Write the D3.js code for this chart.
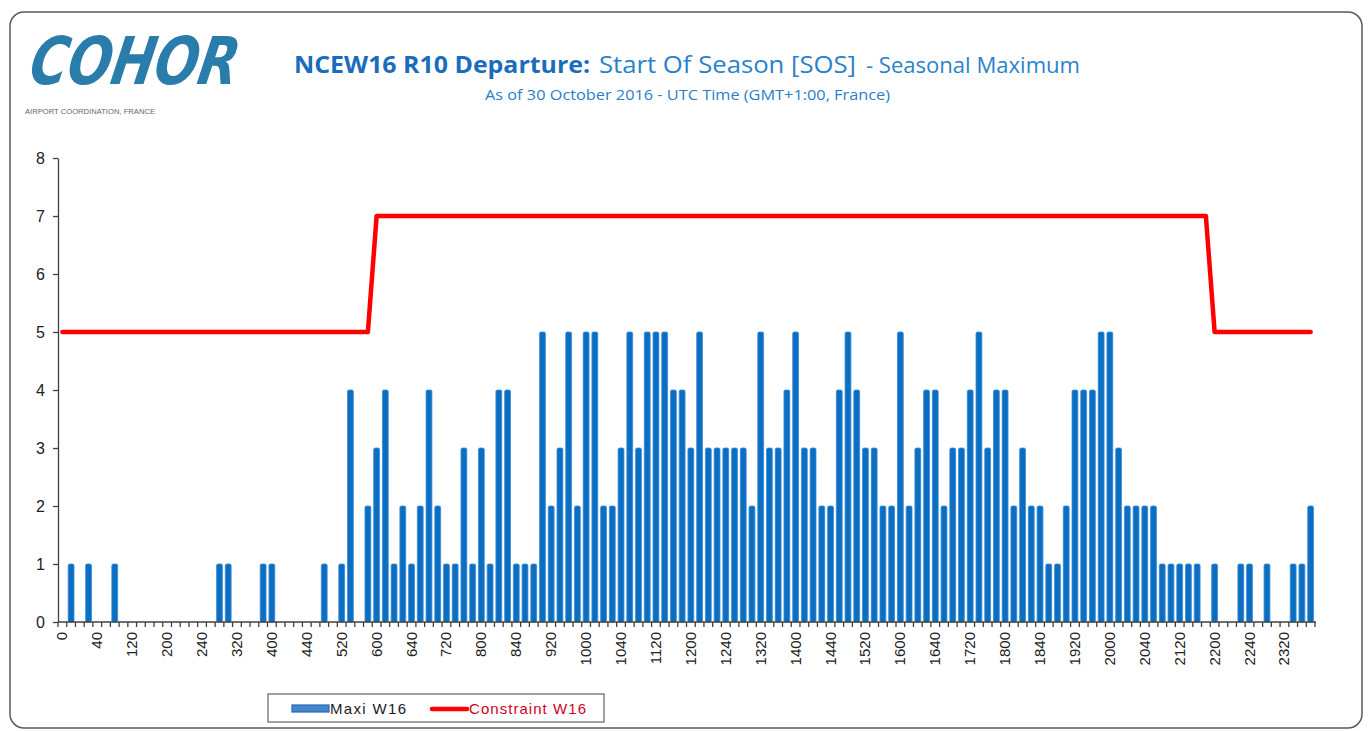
<!DOCTYPE html>
<html><head><meta charset="utf-8">
<script src="https://cdn.jsdelivr.net/npm/d3@7"></script>
<style>html,body{margin:0;padding:0;background:#fff;} svg{display:block;}</style>
</head><body><svg id="c" width="1370" height="731"></svg>
<script>
// 10-minute slots, HHMM without leading zeros
const categories = [
  0,10,20,30,40,50, 100,110,120,130,140,150, 200,210,220,230,240,250,
  300,310,320,330,340,350, 400,410,420,430,440,450, 500,510,520,530,540,550,
  600,610,620,630,640,650, 700,710,720,730,740,750, 800,810,820,830,840,850,
  900,910,920,930,940,950, 1000,1010,1020,1030,1040,1050, 1100,1110,1120,1130,1140,1150,
  1200,1210,1220,1230,1240,1250, 1300,1310,1320,1330,1340,1350, 1400,1410,1420,1430,1440,1450,
  1500,1510,1520,1530,1540,1550, 1600,1610,1620,1630,1640,1650, 1700,1710,1720,1730,1740,1750,
  1800,1810,1820,1830,1840,1850, 1900,1910,1920,1930,1940,1950, 2000,2010,2020,2030,2040,2050,
  2100,2110,2120,2130,2140,2150, 2200,2210,2220,2230,2240,2250, 2300,2310,2320,2330,2340,2350
];
const maxiW16 = [
  0,1,0,1,0,0,1,0,0,0,
  0,0,0,0,0,0,0,0,1,1,
  0,0,0,1,1,0,0,0,0,0,
  1,0,1,4,0,2,3,4,1,2,
  1,2,4,2,1,1,3,1,3,1,
  4,4,1,1,1,5,2,3,5,2,
  5,5,2,2,3,5,3,5,5,5,
  4,4,3,5,3,3,3,3,3,2,
  5,3,3,4,5,3,3,2,2,4,
  5,4,3,3,2,2,5,2,3,4,
  4,2,3,3,4,5,3,4,4,2,
  3,2,2,1,1,2,4,4,4,5,
  5,3,2,2,2,2,1,1,1,1,
  1,0,1,0,0,1,1,0,1,0,
  0,1,1,2
];
const constraintW16 = [
  5,5,5,5,5,5,5,5,5,5, 5,5,5,5,5,5,5,5,5,5, 5,5,5,5,5,5,5,5,5,5, 5,5,5,5,5,5,
  7,7,7,7,7,7,7,7,7,7, 7,7,7,7,7,7,7,7,7,7, 7,7,7,7,7,7,7,7,7,7, 7,7,7,7,7,7,7,7,7,7,
  7,7,7,7,7,7,7,7,7,7, 7,7,7,7,7,7,7,7,7,7, 7,7,7,7,7,7,7,7,7,7, 7,7,7,7,7,7,7,7,7,7,
  7,7,7,7,7,7,7,7,7,7, 7,7,7,7,7,7,
  5,5,5,5,5,5,5,5,5,5,5,5
];
const yTicks = [0,1,2,3,4,5,6,7,8];
const xTickLabels = [0,40,120,200,240,320,400,440,520,600,640,720,800,840,920,1000,1040,1120,
  1200,1240,1320,1400,1440,1520,1600,1640,1720,1800,1840,1920,2000,2040,2120,2200,2240,2320];
const seriesNames = ["Maxi W16", "Constraint W16"];

const svg = d3.select("#c");

// outer frame
svg.append("rect").attr("x",10).attr("y",12).attr("width",1352).attr("height",716)
  .attr("rx",14).attr("fill","#fff").attr("stroke","#5a5a5a").attr("stroke-width",1.5);

// logo
svg.append("text").attr("x",28).attr("y",84)
  .attr("font-family","DejaVu Sans").attr("font-weight","bold").attr("font-style","italic")
  .attr("font-size",66).attr("fill","#2a7caa")
  .attr("textLength",208).attr("lengthAdjust","spacingAndGlyphs")
  .attr("transform","skewX(-10) translate(14,0)")
  .text("COHOR");
svg.append("text").attr("x",25).attr("y",114)
  .attr("font-family","Liberation Sans Narrow, Liberation Sans, Arial").attr("font-size",8)
  .attr("fill","#666").attr("textLength",130).attr("lengthAdjust","spacingAndGlyphs")
  .text("AIRPORT COORDINATION, FRANCE");

// titles
const tf = "Open Sans, Noto Sans, sans-serif";
svg.append("text").attr("x",294).attr("y",73).attr("font-family",tf).attr("font-weight","bold")
  .attr("font-size",23).attr("fill","#1a6cbd").attr("textLength",296).attr("lengthAdjust","spacingAndGlyphs")
  .text("NCEW16 R10 Departure:");
svg.append("text").attr("x",599).attr("y",73).attr("font-family",tf)
  .attr("font-size",23).attr("fill","#2a82cc").attr("textLength",257).attr("lengthAdjust","spacingAndGlyphs")
  .text("Start Of Season [SOS]");
svg.append("text").attr("x",866).attr("y",73).attr("font-family",tf)
  .attr("font-size",21).attr("fill","#2a82cc").attr("textLength",214).attr("lengthAdjust","spacingAndGlyphs")
  .text("- Seasonal Maximum");
svg.append("text").attr("x",485).attr("y",100).attr("font-family",tf)
  .attr("font-size",14).attr("fill","#2a80c8").attr("textLength",405).attr("lengthAdjust","spacingAndGlyphs")
  .text("As of 30 October 2016 - UTC Time (GMT+1:00, France)");

// scales
const x = d3.scaleBand().domain(categories).range([58,1315]).paddingInner(0.33).paddingOuter(0.165);
const y = d3.scaleLinear().domain([0,8]).range([622,158]);
const step = x.step();
const bw = x.bandwidth();

// bars
svg.append("g").selectAll("rect").data(categories.map((c,i)=>({c, v:maxiW16[i]})).filter(d=>d.v>0))
  .join("rect")
  .attr("x",d=>x(d.c)).attr("y",d=>y(d.v)).attr("width",bw).attr("height",d=>y(0)-y(d.v))
  .attr("rx",1.5).attr("fill","#0a6fc2").attr("stroke","#3b8ad4").attr("stroke-width",0.8);

// constraint line
const line = d3.line().x((d,i)=>x(categories[i])+bw/2).y(d=>y(d));
svg.append("path").datum(constraintW16).attr("d",line).attr("fill","none")
  .attr("stroke","#ff0000").attr("stroke-width",4.5).attr("stroke-linejoin","round").attr("stroke-linecap","round");

// y axis
const ya = svg.append("g").attr("transform","translate(58,0)")
  .call(d3.axisLeft(y).tickValues(yTicks).tickSize(5).tickPadding(8).tickSizeOuter(0));
ya.select(".domain").attr("stroke","#404040").attr("stroke-width",1.3);
ya.selectAll(".tick line").attr("stroke","#404040").attr("stroke-width",1.3);
ya.selectAll(".tick text").attr("font-family","Liberation Sans, Arial").attr("font-size",16).attr("fill","#222");

// x axis
const xa = svg.append("g");
xa.append("line").attr("x1",58).attr("x2",1316).attr("y1",y(0)).attr("y2",y(0))
  .attr("stroke","#404040").attr("stroke-width",1.3);
const bounds = categories.map(c=>x(c)-step*0.165).concat([x(categories[categories.length-1])+bw+step*0.165]);
xa.selectAll("line.t").data(bounds).join("line").attr("class","t")
  .attr("x1",d=>d).attr("x2",d=>d).attr("y1",y(0)).attr("y2",y(0)+5)
  .attr("stroke","#404040").attr("stroke-width",1.3);
xa.selectAll("text").data(xTickLabels).join("text")
  .attr("transform",d=>`translate(${x(d)+bw/2+5},${y(0)+10}) rotate(-90)`)
  .attr("text-anchor","end").attr("font-family","Liberation Sans, Arial").attr("font-size",15).attr("fill","#222")
  .text(d=>d);

// legend
const lg = svg.append("g");
lg.append("rect").attr("x",268).attr("y",694).attr("width",336).attr("height",28)
  .attr("fill","#fff").attr("stroke","#444").attr("stroke-width",1);
lg.append("rect").attr("x",292).attr("y",705).attr("width",37).attr("height",7)
  .attr("fill","#4a84c8").attr("stroke","#1a6cbd").attr("stroke-width",1.2);
lg.append("text").attr("x",330).attr("y",714).attr("font-family","Liberation Sans, Arial").attr("font-size",15)
  .attr("fill","#1a1a2a").attr("textLength",76).attr("lengthAdjust","spacing").text(seriesNames[0]);
lg.append("line").attr("x1",432).attr("x2",467).attr("y1",709).attr("y2",709)
  .attr("stroke","#ff0000").attr("stroke-width",4.5).attr("stroke-linecap","round");
lg.append("text").attr("x",469).attr("y",714).attr("font-family","Liberation Sans, Arial").attr("font-size",15)
  .attr("fill","#d4002a").attr("textLength",117).attr("lengthAdjust","spacing").text(seriesNames[1]);
</script></body></html>
